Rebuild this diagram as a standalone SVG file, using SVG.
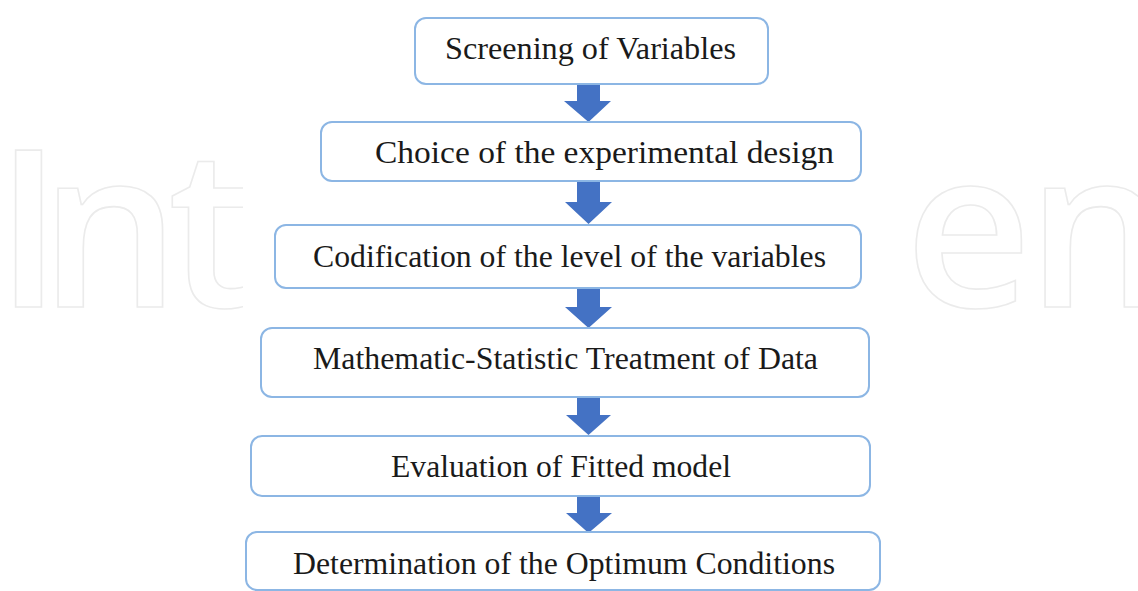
<svg xmlns="http://www.w3.org/2000/svg" width="1138" height="591" viewBox="0 0 1138 591">
<style>
.wm{font-family:"Open Sans",sans-serif;font-size:220px;font-weight:600;fill:none;stroke:#ebebeb;stroke-width:1.6}
.box{fill:#fff;stroke:#8cb6e4;stroke-width:2}
.lbl{font-family:"Liberation Serif","Times New Roman",serif;font-size:32px;fill:#1a1a1a}
.arr{fill:#4472c4}
</style>
<defs>
<clipPath id="cl"><rect x="0" y="0" width="243" height="591"/></clipPath>
</defs>
<rect width="1138" height="591" fill="#fff"/>
<g id="watermark">
<text class="wm" x="-5 40 168" y="307" clip-path="url(#cl)">Int</text>
<text class="wm" x="905 1027" y="307">en</text>
</g>
<g id="connectors">
<polygon class="arr" points="577,83 600,83 600,101 611,101 588.5,122 564,101 577,101"/>
<polygon class="arr" points="577,182 600,182 600,202 612,202 588.5,224 565,202 577,202"/>
<polygon class="arr" points="577,288 600,288 600,307 612,307 588.5,328 565,307 577,307"/>
<polygon class="arr" points="577,396 600,396 600,415 611,415 588.5,435 566,415 577,415"/>
<polygon class="arr" points="577,495 600,495 600,513 612,513 588.5,533 566,513 577,513"/>
</g>
<g id="n1"><rect class="box" x="415" y="18" width="353" height="66" rx="11"/><text class="lbl" x="445" y="59" textLength="291" lengthAdjust="spacingAndGlyphs">Screening of Variables</text></g>
<g id="n2"><rect class="box" x="321" y="122" width="540" height="59" rx="11"/><text class="lbl" x="375" y="163" textLength="459" lengthAdjust="spacingAndGlyphs">Choice of the experimental design</text></g>
<g id="n3"><rect class="box" x="275" y="225" width="586" height="63" rx="11"/><text class="lbl" x="313" y="267" textLength="513" lengthAdjust="spacingAndGlyphs">Codification of the level of the variables</text></g>
<g id="n4"><rect class="box" x="261" y="328" width="608" height="69" rx="11"/><text class="lbl" x="313" y="369" textLength="505" lengthAdjust="spacingAndGlyphs">Mathematic-Statistic Treatment of Data</text></g>
<g id="n5"><rect class="box" x="251" y="436" width="619" height="60" rx="11"/><text class="lbl" x="391" y="477" textLength="340" lengthAdjust="spacingAndGlyphs">Evaluation of Fitted model</text></g>
<g id="n6"><rect class="box" x="246" y="532" width="634" height="58" rx="11"/><text class="lbl" x="293" y="574" textLength="542" lengthAdjust="spacingAndGlyphs">Determination of the Optimum Conditions</text></g>
</svg>
